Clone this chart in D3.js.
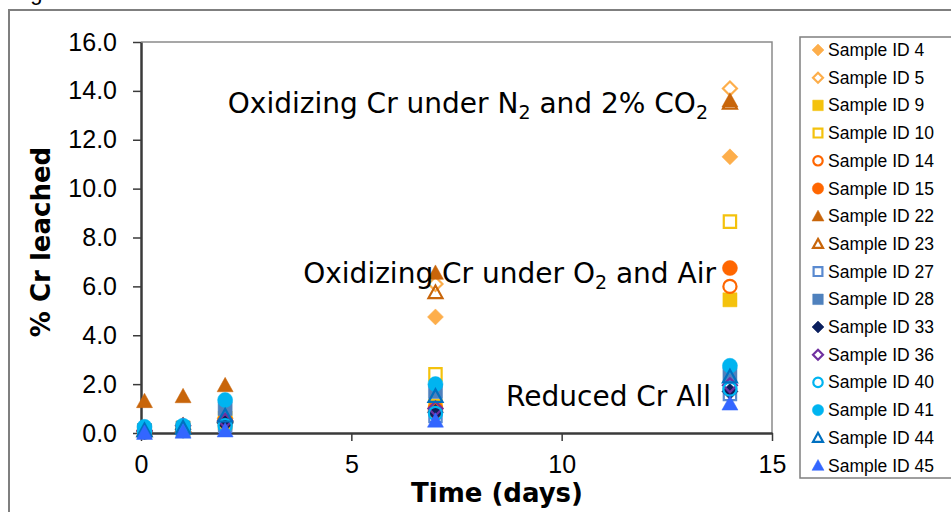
<!DOCTYPE html>
<html>
<head>
<meta charset="utf-8">
<script src="https://cdn.jsdelivr.net/npm/d3@7"></script>
<style>
  html, body { margin: 0; padding: 0; background: #fff; }
  svg { display: block; }
</style>
</head>
<body>
<svg id="chart" width="951" height="512"></svg>
<script>
// Sampling times (days)
const times = [0.083, 1, 2, 7, 14];

// Sample series: id, marker shape, filled or open, colour
const sampleIds = ["Sample ID 4", "Sample ID 5", "Sample ID 9", "Sample ID 10",
  "Sample ID 14", "Sample ID 15", "Sample ID 22", "Sample ID 23",
  "Sample ID 27", "Sample ID 28", "Sample ID 33", "Sample ID 36",
  "Sample ID 40", "Sample ID 41", "Sample ID 44", "Sample ID 45"];
const shapes = ["diamond", "diamond", "square", "square", "circle", "circle",
  "triangle", "triangle", "square", "square", "diamond", "diamond",
  "circle", "circle", "triangle", "triangle"];
const filled = [true, false, true, false, false, true, true, false,
  false, true, true, false, false, true, false, true];
const colors = ["#FDAE4B", "#FDAE4B", "#F4C20D", "#F4C20D", "#FF6600", "#FF6600",
  "#C8650A", "#C8650A", "#5A8AD0", "#4F81BD", "#0B1F5E", "#7030A0",
  "#00B4F0", "#00B4F0", "#0070C0", "#3366FF"];

// % Cr leached per sample, one value per sampling time
const id4 = [0.1, 0.2, 0.5, 4.75, 11.3];
const id5 = [0.1, 0.3, 0.6, 6.1, 14.1];
const id9 = [0.05, 0.1, 0.4, 1.1, 5.45];
const id10 = [0.1, 0.2, 0.6, 2.4, 8.65];
const id14 = [0.05, 0.1, 0.5, 0.9, 6.0];
const id15 = [0.05, 0.15, 0.5, 1.0, 6.75];
const id22 = [1.3, 1.5, 1.95, 6.55, 13.6];
const id23 = [0.1, 0.3, 0.7, 5.75, 13.5];
const id27 = [0.05, 0.1, 0.3, 0.7, 1.6];
const id28 = [0.1, 0.2, 1.0, 1.7, 2.4];
const id33 = [0.05, 0.15, 0.4, 0.85, 1.7];
const id36 = [0.1, 0.3, 0.5, 1.0, 1.95];
const id40 = [0.05, 0.1, 0.3, 0.8, 1.8];
const id41 = [0.25, 0.3, 1.35, 2.0, 2.75];
const id44 = [0.1, 0.2, 0.7, 1.5, 2.3];
const id45 = [0.0, 0.05, 0.1, 0.5, 1.2];
const seriesValues = [id4, id5, id9, id10, id14, id15, id22, id23,
  id27, id28, id33, id36, id40, id41, id44, id45];

// Axis ticks
const yTicks = [0, 2, 4, 6, 8, 10, 12, 14, 16];
const xTicks = [0, 5, 10, 15];

const svg = d3.select("#chart");

// Outer chart frame and the tail of the caption above it
svg.append("text").attr("x", 12).attr("y", 0)
  .attr("font-family", "Liberation Sans, Arial, sans-serif")
  .attr("font-size", 22).attr("fill", "#000").text("Figure");
svg.append("path")
  .attr("d", "M9,520 L9,10 L960,10")
  .attr("fill", "none").attr("stroke", "#7f7f7f").attr("stroke-width", 2);

const plot = { left: 141, top: 42, right: 772, bottom: 433 };
const x = d3.scaleLinear().domain([0, 15]).range([plot.left, plot.right]);
const y = d3.scaleLinear().domain([0, 16]).range([plot.bottom, plot.top]);

// Plot-area border (top and right)
svg.append("path")
  .attr("d", `M${plot.left},${plot.top} L${plot.right},${plot.top} L${plot.right},${plot.bottom}`)
  .attr("fill", "none").attr("stroke", "#8a8a8a").attr("stroke-width", 1.5);

const tickFont = "Liberation Sans, Arial, sans-serif";

const yAxis = svg.append("g")
  .attr("transform", `translate(${plot.left},0)`)
  .call(d3.axisLeft(y).tickValues(yTicks).tickFormat(d3.format(".1f"))
    .tickSize(8).tickSizeOuter(0).tickPadding(16));
const xAxis = svg.append("g")
  .attr("transform", `translate(0,${plot.bottom})`)
  .call(d3.axisBottom(x).tickValues(xTicks).tickFormat(d3.format("d"))
    .tickSize(8).tickSizeOuter(0).tickPadding(14));

[yAxis, xAxis].forEach(ax => {
  ax.select(".domain").attr("stroke", "#3a3a3a").attr("stroke-width", 2.5);
  ax.selectAll(".tick line").attr("stroke", "#3a3a3a").attr("stroke-width", 1.5);
  ax.selectAll(".tick text").attr("font-family", tickFont)
    .attr("font-size", 25).attr("fill", "#000");
});

// Axis titles
svg.append("text")
  .attr("transform", "translate(50,242) rotate(-90)")
  .attr("text-anchor", "middle")
  .attr("font-family", "DejaVu Sans, Verdana, sans-serif")
  .attr("font-weight", "bold").attr("font-size", 26).attr("fill", "#000")
  .text("% Cr leached");
svg.append("text")
  .attr("x", 497).attr("y", 502)
  .attr("text-anchor", "middle")
  .attr("font-family", "DejaVu Sans, Verdana, sans-serif")
  .attr("font-weight", "bold").attr("font-size", 26).attr("fill", "#000")
  .text("Time (days)");

// Marker path generators, r = half-size
function markerPath(shape, r) {
  switch (shape) {
    case "diamond":
      return `M0,${-r}L${r},0L0,${r}L${-r},0Z`;
    case "square": {
      const h = r * 0.88;
      return `M${-h},${-h}L${h},${-h}L${h},${h}L${-h},${h}Z`;
    }
    case "triangle":
      return `M0,${-r}L${r},${r * 0.8}L${-r},${r * 0.8}Z`;
    default:
      return d3.arc()({ innerRadius: 0, outerRadius: r * 0.94, startAngle: 0, endAngle: 2 * Math.PI });
  }
}

function drawMarker(g, i, r) {
  g.append("path")
    .attr("d", markerPath(shapes[i], filled[i] ? r : r - 1))
    .attr("fill", filled[i] ? colors[i] : "none")
    .attr("stroke", colors[i])
    .attr("stroke-width", filled[i] ? 0.5 : 2.2);
}

// Data points, series drawn in legend order
const pts = svg.append("g");
seriesValues.forEach((vals, i) => {
  vals.forEach((v, k) => {
    const g = pts.append("g").attr("transform", `translate(${x(times[k])},${y(v)})`);
    drawMarker(g, i, 8);
  });
});

// Annotations; subscripts are lowered and the baseline restored afterwards
const annFont = "DejaVu Sans, Verdana, sans-serif";
function annotate(xPos, yPos, parts) {
  const t = svg.append("text").attr("x", xPos).attr("y", yPos)
    .attr("text-anchor", "end")
    .attr("font-family", annFont).attr("font-size", 28).attr("fill", "#000");
  let lowered = false;
  parts.forEach(p => {
    const s = t.append("tspan").text(p.text);
    if (p.sub) {
      s.attr("font-size", 19).attr("dy", 6);
      lowered = true;
    } else if (lowered) {
      s.attr("dy", -6);
      lowered = false;
    }
  });
}
annotate(708, 113, [{ text: "Oxidizing Cr under N" }, { text: "2", sub: true },
  { text: " and 2% CO" }, { text: "2", sub: true }]);
annotate(716, 283, [{ text: "Oxidizing Cr under O" }, { text: "2", sub: true },
  { text: " and Air" }]);
annotate(711, 406, [{ text: "Reduced Cr All" }]);

// Legend
const legend = svg.append("g");
legend.append("rect")
  .attr("x", 800).attr("y", 37).attr("width", 200).attr("height", 441)
  .attr("fill", "#fff").attr("stroke", "#7f7f7f").attr("stroke-width", 1.5);
sampleIds.forEach((name, i) => {
  const cy = 50 + i * 27.7;
  const g = legend.append("g").attr("transform", `translate(818,${cy})`);
  drawMarker(g, i, 6);
  legend.append("text").attr("x", 828).attr("y", cy + 6)
    .attr("font-family", tickFont).attr("font-size", 17.5).attr("fill", "#000")
    .text(name);
});
</script>
</body>
</html>
